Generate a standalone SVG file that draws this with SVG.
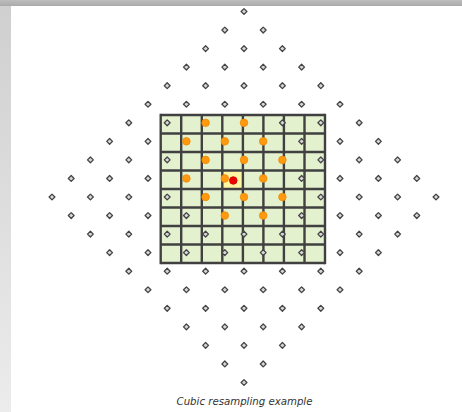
<svg xmlns="http://www.w3.org/2000/svg" xmlns:xlink="http://www.w3.org/1999/xlink" width="462" height="412" viewBox="0 0 462 412">
<defs>
<linearGradient id="topbar" x1="0" y1="0" x2="0" y2="1"><stop offset="0" stop-color="#bdbdbd"/><stop offset="1" stop-color="#aaaaaa"/></linearGradient>
<linearGradient id="leftbar" x1="0" y1="0" x2="0" y2="1"><stop offset="0" stop-color="#cfcfcf"/><stop offset="1" stop-color="#ececec"/></linearGradient>
<g id="p"><path d="M0,-2.9 L2.9,0 L0,2.9 L-2.9,0 Z" fill="#d8d8d8" stroke="#444" stroke-width="1.3" stroke-linejoin="round"/></g>
<g id="o"><circle r="3.8" fill="#ff9a10" stroke="#f08a00" stroke-width="0.8"/></g>
</defs>
<style>
.grid line{stroke:#404040;stroke-width:2.4}
.cap{font-family:"DejaVu Sans",Verdana,sans-serif;font-style:italic;font-size:10.2px;fill:#333}
</style>
<rect x="0" y="0" width="462" height="412" fill="#ffffff"/>
<rect x="0" y="0" width="11" height="412" fill="url(#leftbar)"/>
<rect x="0" y="0" width="462" height="6" fill="url(#topbar)"/>
<g id="grid" class="grid">
<rect x="160.7" y="115" width="164.3" height="148" fill="#e4f1cf"/>
<rect x="222.3" y="170.5" width="20.6" height="18.5" fill="#fff6a3"/>
<line x1="160.7" y1="113.8" x2="160.7" y2="264.2"/>
<line x1="181.2" y1="115" x2="181.2" y2="263"/>
<line x1="201.8" y1="115" x2="201.8" y2="263"/>
<line x1="222.3" y1="115" x2="222.3" y2="263"/>
<line x1="242.9" y1="115" x2="242.9" y2="263"/>
<line x1="263.4" y1="115" x2="263.4" y2="263"/>
<line x1="283.9" y1="115" x2="283.9" y2="263"/>
<line x1="304.5" y1="115" x2="304.5" y2="263"/>
<line x1="325" y1="113.8" x2="325" y2="264.2"/>
<line x1="160.7" y1="115" x2="325" y2="115"/>
<line x1="160.7" y1="133.5" x2="325" y2="133.5"/>
<line x1="160.7" y1="152" x2="325" y2="152"/>
<line x1="160.7" y1="170.5" x2="325" y2="170.5"/>
<line x1="160.7" y1="189" x2="325" y2="189"/>
<line x1="160.7" y1="207.5" x2="325" y2="207.5"/>
<line x1="160.7" y1="226" x2="325" y2="226"/>
<line x1="160.7" y1="244.5" x2="325" y2="244.5"/>
<line x1="160.7" y1="263" x2="325" y2="263"/>
</g>
<g id="lattice">
<use href="#p" x="244" y="11.5"/>
<use href="#p" x="224.8" y="30.05"/><use href="#p" x="263.2" y="30.05"/>
<use href="#p" x="205.6" y="48.6"/><use href="#p" x="244" y="48.6"/><use href="#p" x="282.4" y="48.6"/>
<use href="#p" x="186.4" y="67.15"/><use href="#p" x="224.8" y="67.15"/><use href="#p" x="263.2" y="67.15"/><use href="#p" x="301.6" y="67.15"/>
<use href="#p" x="167.2" y="85.7"/><use href="#p" x="205.6" y="85.7"/><use href="#p" x="244" y="85.7"/><use href="#p" x="282.4" y="85.7"/><use href="#p" x="320.8" y="85.7"/>
<use href="#p" x="148" y="104.25"/><use href="#p" x="186.4" y="104.25"/><use href="#p" x="224.8" y="104.25"/><use href="#p" x="263.2" y="104.25"/><use href="#p" x="301.6" y="104.25"/><use href="#p" x="340" y="104.25"/>
<use href="#p" x="128.8" y="122.8"/><use href="#p" x="167.2" y="122.8"/><use href="#p" x="282.4" y="122.8"/><use href="#p" x="320.8" y="122.8"/><use href="#p" x="359.2" y="122.8"/>
<use href="#p" x="109.6" y="141.35"/><use href="#p" x="148" y="141.35"/><use href="#p" x="301.6" y="141.35"/><use href="#p" x="340" y="141.35"/><use href="#p" x="378.4" y="141.35"/>
<use href="#p" x="90.4" y="159.9"/><use href="#p" x="128.8" y="159.9"/><use href="#p" x="167.2" y="159.9"/><use href="#p" x="320.8" y="159.9"/><use href="#p" x="359.2" y="159.9"/><use href="#p" x="397.6" y="159.9"/>
<use href="#p" x="71.2" y="178.45"/><use href="#p" x="109.6" y="178.45"/><use href="#p" x="148" y="178.45"/><use href="#p" x="301.6" y="178.45"/><use href="#p" x="340" y="178.45"/><use href="#p" x="378.4" y="178.45"/><use href="#p" x="416.8" y="178.45"/>
<use href="#p" x="52" y="197"/><use href="#p" x="90.4" y="197"/><use href="#p" x="128.8" y="197"/><use href="#p" x="167.2" y="197"/><use href="#p" x="320.8" y="197"/><use href="#p" x="359.2" y="197"/><use href="#p" x="397.6" y="197"/><use href="#p" x="436" y="197"/>
<use href="#p" x="71.2" y="215.55"/><use href="#p" x="109.6" y="215.55"/><use href="#p" x="148" y="215.55"/><use href="#p" x="186.4" y="215.55"/><use href="#p" x="301.6" y="215.55"/><use href="#p" x="340" y="215.55"/><use href="#p" x="378.4" y="215.55"/><use href="#p" x="416.8" y="215.55"/>
<use href="#p" x="90.4" y="234.1"/><use href="#p" x="128.8" y="234.1"/><use href="#p" x="167.2" y="234.1"/><use href="#p" x="205.6" y="234.1"/><use href="#p" x="244" y="234.1"/><use href="#p" x="282.4" y="234.1"/><use href="#p" x="320.8" y="234.1"/><use href="#p" x="359.2" y="234.1"/><use href="#p" x="397.6" y="234.1"/>
<use href="#p" x="109.6" y="252.65"/><use href="#p" x="148" y="252.65"/><use href="#p" x="186.4" y="252.65"/><use href="#p" x="224.8" y="252.65"/><use href="#p" x="263.2" y="252.65"/><use href="#p" x="301.6" y="252.65"/><use href="#p" x="340" y="252.65"/><use href="#p" x="378.4" y="252.65"/>
<use href="#p" x="128.8" y="271.2"/><use href="#p" x="167.2" y="271.2"/><use href="#p" x="205.6" y="271.2"/><use href="#p" x="244" y="271.2"/><use href="#p" x="282.4" y="271.2"/><use href="#p" x="320.8" y="271.2"/><use href="#p" x="359.2" y="271.2"/>
<use href="#p" x="148" y="289.75"/><use href="#p" x="186.4" y="289.75"/><use href="#p" x="224.8" y="289.75"/><use href="#p" x="263.2" y="289.75"/><use href="#p" x="301.6" y="289.75"/><use href="#p" x="340" y="289.75"/>
<use href="#p" x="167.2" y="308.3"/><use href="#p" x="205.6" y="308.3"/><use href="#p" x="244" y="308.3"/><use href="#p" x="282.4" y="308.3"/><use href="#p" x="320.8" y="308.3"/>
<use href="#p" x="186.4" y="326.85"/><use href="#p" x="224.8" y="326.85"/><use href="#p" x="263.2" y="326.85"/><use href="#p" x="301.6" y="326.85"/>
<use href="#p" x="205.6" y="345.4"/><use href="#p" x="244" y="345.4"/><use href="#p" x="282.4" y="345.4"/>
<use href="#p" x="224.8" y="363.95"/><use href="#p" x="263.2" y="363.95"/>
<use href="#p" x="244" y="382.5"/>
</g>
<g id="neighbours">
<use href="#o" x="205.6" y="122.8"/><use href="#o" x="244" y="122.8"/>
<use href="#o" x="186.4" y="141.35"/><use href="#o" x="224.8" y="141.35"/><use href="#o" x="263.2" y="141.35"/>
<use href="#o" x="205.6" y="159.9"/><use href="#o" x="244" y="159.9"/><use href="#o" x="282.4" y="159.9"/>
<use href="#o" x="186.4" y="178.45"/><use href="#o" x="224.8" y="178.45"/><use href="#o" x="263.2" y="178.45"/>
<use href="#o" x="205.6" y="197"/><use href="#o" x="244" y="197"/><use href="#o" x="282.4" y="197"/>
<use href="#o" x="224.8" y="215.55"/><use href="#o" x="263.2" y="215.55"/>
</g>
<g id="target">
<circle cx="233.3" cy="180.5" r="3.8" fill="#ee0000" stroke="#cc0000" stroke-width="0.8"/>
</g>
<text class="cap" x="244.5" y="405" text-anchor="middle">Cubic resampling example</text>
</svg>
